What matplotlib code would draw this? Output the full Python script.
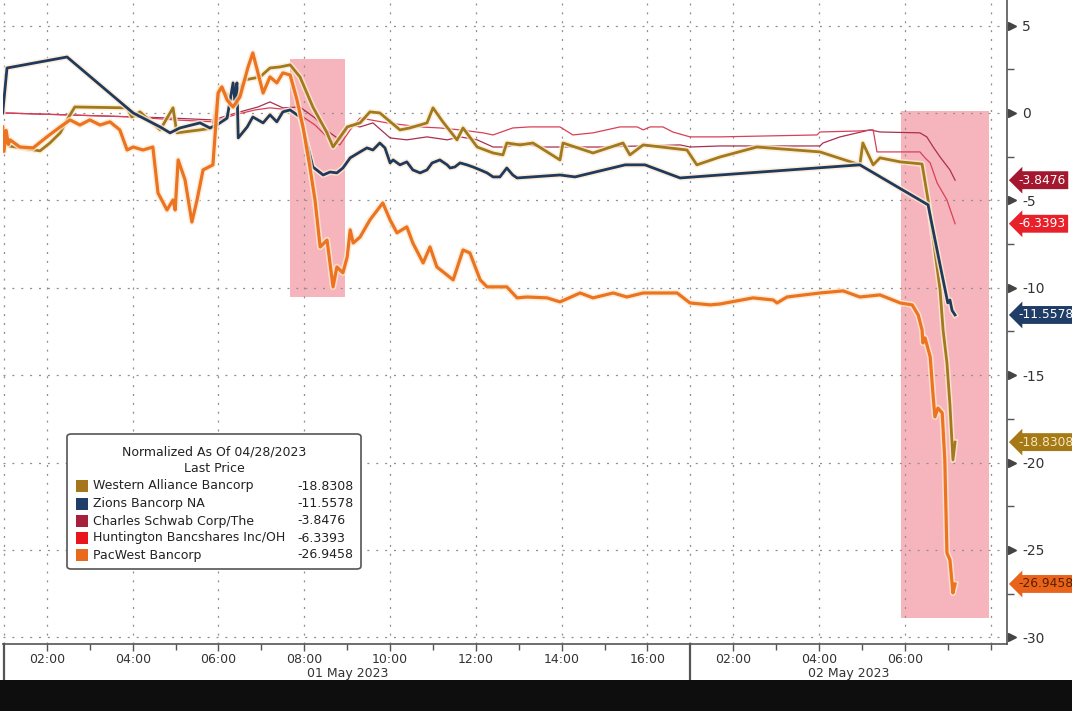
import matplotlib
matplotlib.use('Agg')
import matplotlib.pyplot as plt
import matplotlib.transforms as mtransforms
from matplotlib.patches import FancyBboxPatch, Rectangle
import matplotlib.patheffects as pe

# Session hours: 01 May 01:00-17:00 -> 1..17, 02 May hh:mm -> 16 + hh
zions_t = [0.97, 1.07, 2.47, 4.01, 4.64, 4.87, 5.10, 5.57, 5.80, 5.96, 6.20, 6.34, 6.38, 6.43, 6.46,
           6.67, 6.80, 7.04, 7.20, 7.36, 7.50, 7.67, 7.90, 8.06, 8.20, 8.44, 8.60, 8.76, 8.90, 9.07,
           9.30, 9.46, 9.60, 9.76, 9.88, 10.00, 10.07, 10.23, 10.39, 10.53, 10.70, 10.86, 10.98, 11.16,
           11.33, 11.40, 11.51, 11.63, 11.79, 11.93, 12.10, 12.26, 12.40, 12.56, 12.72, 12.86, 12.96,
           13.96, 14.31, 15.48, 15.94, 16.76, 17.69, 20.95, 22.54, 22.82, 23.00, 23.05, 23.10, 23.17]
zions_v = [0.0, 2.57, 3.20, 0.0, -0.80, -1.14, -0.86, -0.57, -0.86, -0.69, -0.30, 1.72, 0.74, 1.72, -1.43,
           -0.80, -0.23, -0.57, -0.11, -0.51, 0.06, 0.17, -0.23, -1.72, -3.09, -3.55, -3.38, -3.43, -3.15, -2.57,
           -2.23, -2.00, -2.12, -1.72, -2.00, -2.86, -2.69, -2.97, -2.80, -3.26, -3.43, -3.26, -2.86, -2.69,
           -2.97, -3.15, -3.09, -2.86, -2.97, -3.09, -3.26, -3.43, -3.66, -3.66, -3.15, -3.55, -3.72,
           -3.55, -3.66, -2.97, -2.97, -3.72, -3.55, -2.97, -5.26, -8.70, -10.87, -10.70, -11.30, -11.5578]

wal_t = [0.97, 1.14, 1.84, 2.07, 2.31, 2.47, 2.65, 3.87, 3.98, 4.17, 4.64, 4.94, 5.03, 5.57, 5.87,
         6.03, 6.34, 6.62, 6.97, 7.20, 7.43, 7.67, 7.90, 8.20, 8.53, 8.67, 9.00, 9.30, 9.53, 9.76,
         10.23, 10.46, 10.86, 11.00, 11.23, 11.56, 11.70, 12.03, 12.40, 12.63, 12.72, 13.03, 13.33,
         13.96, 14.03, 14.73, 15.43, 15.59, 15.90, 16.92, 17.15, 17.69, 18.55, 20.02, 20.95, 21.02,
         21.26, 21.42, 21.89, 22.40, 22.54, 22.82, 22.89, 22.98, 23.05, 23.12, 23.17]
wal_v = [-1.0, -1.90, -2.17, -1.72, -1.14, -0.40, 0.34, 0.29, -0.23, 0.06, -0.97, 0.29, -1.14, -0.97, -0.86,
         1.43, 0.74, 1.89, 2.06, 2.57, 2.63, 2.75, 2.06, 0.34, -1.14, -1.95, -0.80, -0.57, 0.06, 0.0,
         -0.97, -0.86, -0.57, 0.29, -0.51, -1.54, -0.86, -1.95, -2.29, -2.40, -1.72, -1.83, -1.72,
         -2.69, -1.72, -2.29, -1.72, -2.40, -1.83, -2.12, -2.97, -2.52, -1.95, -2.23, -2.97, -1.72,
         -2.97, -2.57, -2.80, -2.92, -4.98, -10.13, -12.41, -14.30, -16.70, -19.85, -18.8308]

pacw_t = [0.97, 1.00, 1.05, 1.10, 1.14, 1.37, 1.68, 2.00, 2.31, 2.54, 2.77, 3.00, 3.24, 3.47, 3.70,
          3.87, 4.01, 4.24, 4.47, 4.59, 4.80, 4.94, 4.99, 5.06, 5.22, 5.38, 5.50, 5.64, 5.87, 5.99,
          6.08, 6.20, 6.34, 6.50, 6.69, 6.80, 6.92, 7.04, 7.20, 7.36, 7.50, 7.67, 7.83, 7.97, 8.13,
          8.25, 8.37, 8.53, 8.67, 8.76, 8.90, 9.00, 9.07, 9.14, 9.30, 9.53, 9.83, 10.00, 10.16, 10.39,
          10.53, 10.77, 10.93, 11.09, 11.47, 11.70, 11.86, 12.10, 12.26, 12.72, 12.96, 13.19, 13.66,
          13.96, 14.43, 14.73, 15.20, 15.52, 15.90, 16.69, 16.99, 17.46, 17.69, 18.46, 18.93, 19.02,
          19.25, 20.02, 20.56, 20.95, 21.42, 21.89, 22.17, 22.31, 22.40, 22.42, 22.47, 22.59, 22.66,
          22.70, 22.77, 22.87, 22.93, 22.98, 23.05, 23.12, 23.17]
pacw_v = [-0.80, -2.20, -1.00, -1.80, -1.54, -1.95, -2.00, -1.37, -0.80, -0.40, -0.69, -0.40, -0.69, -0.51, -0.97,
          -2.12, -1.95, -2.12, -1.95, -4.58, -5.55, -4.98, -5.55, -2.69, -3.83, -6.24, -4.98, -3.26, -2.97, 1.14,
          1.49, 0.74, 0.34, 0.92, 2.63, 3.43, 2.29, 1.14, 2.06, 1.72, 2.29, 2.17, 0.74, -0.80, -3.09,
          -4.98, -7.67, -7.27, -9.95, -8.81, -9.15, -8.24, -6.69, -7.44, -7.10, -6.12, -5.15, -6.12, -6.86, -6.52,
          -7.44, -8.58, -7.67, -8.81, -9.55, -7.84, -8.01, -9.55, -9.95, -9.95, -10.58, -10.53, -10.58,
          -10.81, -10.30, -10.58, -10.30, -10.53, -10.30, -10.30, -10.87, -10.98, -10.93, -10.58, -10.70, -10.87,
          -10.53, -10.30, -10.18, -10.53, -10.41, -10.87, -10.98, -11.56, -12.41, -13.16, -12.87, -13.96, -16.25,
          -17.39, -16.88, -17.16, -19.85, -25.17, -25.57, -27.46, -26.9458]

schw_t = [0.97, 4.87, 5.87, 6.50, 6.92, 7.20, 7.50, 7.90, 8.25, 8.60, 8.83, 9.07, 9.30, 9.60, 10.00,
          10.39, 10.86, 11.33, 11.63, 12.03, 12.40, 12.72, 13.03, 13.49, 14.89, 16.76, 16.99, 17.69,
          20.02, 20.09, 20.49, 21.19, 21.42, 22.35, 22.51, 22.66, 22.82, 23.05, 23.17]
schw_v = [0.0, -0.29, -0.40, 0.06, 0.34, 0.63, 0.29, 0.34, -0.29, -1.14, -1.54, -0.69, -0.80, -0.57, -1.43,
          -1.54, -1.37, -1.54, -1.37, -1.54, -1.95, -1.95, -1.72, -1.95, -1.95, -1.83, -1.95, -1.89,
          -1.89, -1.72, -1.37, -0.97, -1.09, -1.14, -1.37, -1.95, -2.52, -3.26, -3.8476]

hban_t = [0.97, 4.01, 4.99, 5.87, 6.38, 6.85, 7.20, 7.67, 7.90, 8.25, 8.60, 8.83, 9.07, 9.30, 9.93,
          10.70, 11.16, 11.63, 12.17, 12.40, 12.86, 13.26, 13.96, 14.26, 14.73, 15.36, 15.76, 15.90,
          16.06, 16.36, 16.59, 16.99, 17.69, 19.95, 20.02, 20.95, 21.26, 21.35, 22.35, 22.47, 22.59,
          22.75, 22.98, 23.17]
hban_v = [0.0, -0.23, -0.40, -0.51, -0.11, 0.17, 0.29, 0.17, -0.11, -0.69, -1.54, -1.83, -0.97, -0.29, -0.57,
          -0.80, -0.86, -0.97, -1.14, -1.26, -0.86, -0.80, -0.80, -1.26, -1.14, -0.80, -0.80, -0.97,
          -0.80, -0.80, -1.09, -1.37, -1.37, -1.26, -1.09, -1.03, -0.97, -2.23, -2.23, -2.57, -2.86,
          -4.00, -4.98, -6.3393]

names = ["Western Alliance Bancorp", "Zions Bancorp NA", "Charles Schwab Corp/The",
         "Huntington Bancshares Inc/OH", "PacWest Bancorp"]
last_vals = ["-18.8308", "-11.5578", "-3.8476", "-6.3393", "-26.9458"]
last_nums = [-18.8308, -11.5578, -3.8476, -6.3393, -26.9458]
colors = ["#a5761c", "#1f3d66", "#a61f3c", "#e8161c", "#e86a1c"]
line_colors = ["#a07a1c", "#1f3a5c", "#a8304e", "#d84058", "#ec7420"]
tag_colors = ["#a57a16", "#1f3d66", "#a3182f", "#e8202a", "#e8641a"]
tag_text_colors = ["#f6e6c0", "white", "white", "white", "#5a1e00"]
series_t = [wal_t, zions_t, schw_t, hban_t, pacw_t]
series_v = [wal_v, zions_v, schw_v, hban_v, pacw_v]
widths = [2.0, 2.0, 0.9, 0.9, 2.3]
zorders = [4, 4, 3, 3, 5]

xticks_major = [2, 4, 6, 8, 10, 12, 14, 16, 18, 20, 22]
xtick_labels = ["02:00", "04:00", "06:00", "08:00", "10:00", "12:00", "14:00", "16:00",
                "02:00", "04:00", "06:00"]
xticks_minor = [3, 5, 7, 9, 11, 13, 15, 19, 21, 23, 24]
day_bounds = [1, 17]
day_labels = ["01 May 2023", "02 May 2023"]
vgrid = [1, 2, 4, 6, 8, 10, 12, 14, 16, 17, 18, 20, 22, 24]
yticks = [5, 0, -5, -10, -15, -20, -25, -30]
highlight_x = [(7.67, 8.95), (21.91, 23.96)]
highlight_y = [(-10.53, 3.09), (-28.89, 0.11)]

W, H = 1072, 711
fig = plt.figure(figsize=(W / 100, H / 100), dpi=100)
fig.patch.set_facecolor('white')
ax = fig.add_axes([3 / W, 67 / H, 1004 / W, 644 / H])
ax.set_xlim(0.977, 24.38)
ax.set_ylim(-30.38, 6.46)

# black band at bottom
fig.patches.append(Rectangle((0, 0), 1, 31 / H, transform=fig.transFigure,
                             facecolor='#0e0e0e', edgecolor='none', zorder=0))

# highlights
for (x0, x1), (y0, y1) in zip(highlight_x, highlight_y):
    ax.add_patch(Rectangle((x0, y0), x1 - x0, y1 - y0, facecolor='#f6b5bc',
                           edgecolor='none', zorder=0.5))

# grid
grid_kw = dict(color='#8f8f8f', lw=0.9, ls=(0, (1.6, 5.5)), zorder=1)
for gx in vgrid:
    ax.axvline(gx, **grid_kw)
for gy in yticks:
    ax.axhline(gy, **grid_kw)

# series
for t, v, c, lw, z in zip(series_t, series_v, line_colors, widths, zorders):
    if lw > 1.5:
        ax.plot(t, v, color=c, lw=lw, zorder=z, solid_joinstyle='round',
                path_effects=[pe.Stroke(linewidth=lw + 2.2, foreground='#fde9d2', alpha=0.8), pe.Normal()])
    else:
        ax.plot(t, v, color=c, lw=lw, zorder=z)

# spines
for s in ['top', 'left']:
    ax.spines[s].set_visible(False)
for s in ['bottom', 'right']:
    ax.spines[s].set_color('#555555')
    ax.spines[s].set_linewidth(1.2)

# x axis
ax.set_xticks(xticks_major)
ax.set_xticklabels(xtick_labels, fontsize=9, color='#333333')
ax.set_xticks(xticks_minor, minor=True)
ax.tick_params(axis='x', which='major', direction='out', length=5, width=1, color='#555555', pad=1.5)
ax.tick_params(axis='x', which='minor', direction='out', length=4, width=1, color='#555555')

trans_x = mtransforms.blended_transform_factory(ax.transData, ax.transAxes)
for b in day_bounds:
    ax.plot([b, b], [0, -36 / 644], transform=trans_x, color='#555555', lw=1.6, clip_on=False)
day_centers = [(day_bounds[0] + day_bounds[1]) / 2, (day_bounds[1] + ax.get_xlim()[1]) / 2]
for xc, lab in zip(day_centers, day_labels):
    ax.text(xc, -30 / 644, lab, transform=trans_x, ha='center', va='center',
            fontsize=9, color='#333333')

# y axis on right
ax.yaxis.tick_right()
ax.set_yticks(yticks)
ax.set_yticklabels([str(y) for y in yticks], fontsize=10, color='#333333')
ax.set_yticks([7.5 - 5 * i for i in range(1, 8)], minor=True)
ax.tick_params(axis='y', which='major', length=0, pad=11)
ax.tick_params(axis='y', which='minor', direction='out', length=5, width=1, color='#555555')
trans_y = mtransforms.blended_transform_factory(ax.transAxes, ax.transData)
ax.plot([1.0045] * len(yticks), yticks, transform=trans_y, ls='none', marker='>',
        markersize=6, color='#444444', clip_on=False)

# right-side last value tags
for val, num, c, tc in zip(last_vals, last_nums, tag_colors, tag_text_colors):
    ax.text(1.0115, num, val, transform=trans_y, ha='left', va='center', fontsize=8.8,
            color=tc, clip_on=False, zorder=10,
            bbox=dict(boxstyle='larrow,pad=0.2', facecolor=c, edgecolor='none'))

# legend box
def fx(px):
    return px / W

def fy(py):
    return 1 - py / H

leg = FancyBboxPatch((fx(67), fy(569)), fx(361) - fx(67), fy(434) - fy(569),
                     boxstyle='round,pad=0,rounding_size=0.004', transform=fig.transFigure,
                     facecolor='white', edgecolor='#555555', lw=1.2, zorder=20)
fig.patches.append(leg)
fig.text(fx(214), fy(452), "Normalized As Of 04/28/2023", ha='center', va='center',
         fontsize=9, color='#222222', zorder=21)
fig.text(fx(214), fy(469), "Last Price", ha='center', va='center', fontsize=9,
         color='#222222', zorder=21)
row_y = [486, 503.5, 521, 538, 555]
for ry, name, val, c in zip(row_y, names, last_vals, colors):
    fig.patches.append(Rectangle((fx(76), fy(ry + 6)), fx(88) - fx(76), fy(ry - 6) - fy(ry + 6),
                                 transform=fig.transFigure, facecolor=c, edgecolor='none', zorder=21))
    fig.text(fx(93), fy(ry), name, ha='left', va='center', fontsize=9, color='#222222', zorder=21)
    fig.text(fx(297), fy(ry), val, ha='left', va='center', fontsize=9, color='#222222', zorder=21)

fig.savefig('out.png', dpi=100, facecolor='white')
